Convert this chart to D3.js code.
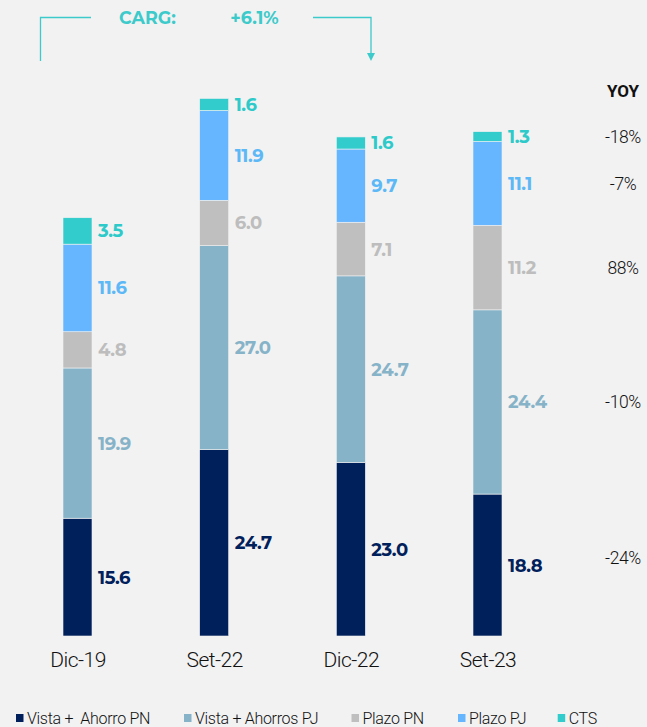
<!DOCTYPE html>
<html><head><meta charset="utf-8">
<script src="https://cdn.jsdelivr.net/npm/d3@7"></script>
<style>
html,body{margin:0;padding:0;background:#F2F2F2;}
svg{display:block;}
</style></head>
<body>
<svg id="chart" width="647" height="727"></svg>
<script>
const categories = ["Dic-19", "Set-22", "Dic-22", "Set-23"];
const seriesNames = ["Vista +  Ahorro PN", "Vista + Ahorros PJ", "Plazo PN", "Plazo PJ", "CTS"];
const vistaPN   = [15.6, 24.7, 23.0, 18.8];
const vistaPJ   = [19.9, 27.0, 24.7, 24.4];
const plazoPN   = [4.8, 6.0, 7.1, 11.2];
const plazoPJ   = [11.6, 11.9, 9.7, 11.1];
const cts       = [3.5, 1.6, 1.6, 1.3];
const yoyLabels = ["-24%", "-10%", "88%", "-7%", "-18%"]; // same order as series
const cargLabel = "CARG:";
const cargValue = "+6.1%";
const colors = ["#00205B", "#86B3C8", "#BFBFBF", "#66B5FF", "#33CCCC"];
const labelColors = ["#00205B", "#86B3C8", "#BDBDBD", "#5DB8F7", "#2ECACA"];

const series = [vistaPN, vistaPJ, plazoPN, plazoPJ, cts];
const rows = categories.map((c, i) => {
  const r = {cat: c};
  seriesNames.forEach((s, k) => r[s] = series[k][i]);
  return r;
});
const stacked = d3.stack().keys(seriesNames)(rows);

const svg = d3.select("#chart");
const baseY = 636, pxPerUnit = 7.55;
const y = d3.scaleLinear().domain([0, 80]).range([baseY, baseY - 80 * pxPerUnit]);
const x = d3.scalePoint().domain(categories).range([77.5, 487.5]);
const barW = 29;

const g = svg.append("g");
stacked.forEach((layer, k) => {
  g.selectAll(null).data(layer).enter().append("rect")
    .attr("x", d => x(d.data.cat) - barW / 2)
    .attr("y", d => y(d[1]))
    .attr("width", barW)
    .attr("height", d => y(d[0]) - y(d[1]))
    .attr("fill", colors[k])
    .attr("stroke", "#F2F2F2").attr("stroke-width", 0.6);
  g.selectAll(null).data(layer).enter().append("text")
    .attr("x", d => x(d.data.cat) + barW / 2 + 6)
    .attr("y", d => (y(d[0]) + y(d[1])) / 2)
    .attr("dy", "0.36em")
    .attr("fill", labelColors[k])
    .attr("font-family", "Montserrat, 'Open Sans', sans-serif")
    .attr("font-weight", 700)
    .attr("font-size", 18)
    .attr("letter-spacing", "-0.4")
    .text(d => (d[1] - d[0]).toFixed(1));
});

// x axis labels
const xAxis = d3.axisBottom(x).tickSize(0).tickPadding(0);
const ax = svg.append("g").attr("transform", `translate(0,${baseY + 16})`).call(xAxis);
ax.select(".domain").remove();
ax.selectAll("text")
  .attr("font-family", "Roboto, sans-serif")
  .attr("font-weight", 300)
  .attr("font-size", 21)
  .attr("letter-spacing", "-0.5")
  .attr("fill", "#111")
  .attr("dy", "0.71em");

// YOY column
const yoyX = 623;
svg.append("text").attr("x", yoyX).attr("y", 91).attr("dy", "0.36em")
  .attr("text-anchor", "middle").attr("font-family", "Roboto, sans-serif")
  .attr("font-weight", 700).attr("font-size", 17).attr("fill", "#111").text("YOY");
const last = categories.length - 1;
stacked.forEach((layer, k) => {
  const d = layer[last];
  svg.append("text").attr("x", yoyX)
    .attr("y", (y(d[0]) + y(d[1])) / 2 - (k === 0 ? 7 : 0))
    .attr("dy", "0.36em")
    .attr("text-anchor", "middle")
    .attr("font-family", "Roboto, sans-serif")
    .attr("font-weight", 300)
    .attr("font-size", 17.5)
    .attr("letter-spacing", "-0.4")
    .attr("fill", "#111")
    .text(yoyLabels[k]);
});

// CARG bracket
const teal = "#3CCACA";
const bx0 = 40.5, bx1 = 371, by = 17.5, byEnd = 61;
svg.append("path").attr("d", `M${bx0},${byEnd}V${by}H91`).attr("fill", "none").attr("stroke", teal).attr("stroke-width", 1.3);
svg.append("path").attr("d", `M313,${by}H${bx1}V${byEnd - 7}`).attr("fill", "none").attr("stroke", teal).attr("stroke-width", 1.3);
svg.append("path").attr("d", `M${bx1 - 4},${byEnd - 8}L${bx1 + 4},${byEnd - 8}L${bx1},${byEnd}Z`).attr("fill", teal);
svg.append("text").attr("x", 147.5).attr("y", by).attr("dy", "0.36em").attr("text-anchor", "middle")
  .attr("font-family", "Montserrat, 'Open Sans', sans-serif").attr("font-weight", 700).attr("font-size", 17.5)
  .attr("fill", teal).text(cargLabel);
svg.append("text").attr("x", 254.5).attr("y", by).attr("dy", "0.36em").attr("text-anchor", "middle")
  .attr("font-family", "Montserrat, 'Open Sans', sans-serif").attr("font-weight", 700).attr("font-size", 17.5)
  .attr("fill", teal).text(cargValue);

// Legend
const legendX = [16, 184, 351.5, 458, 557.7];
const lg = svg.append("g");
seriesNames.forEach((s, k) => {
  lg.append("rect").attr("x", legendX[k]).attr("y", 714).attr("width", 7.5).attr("height", 8).attr("fill", colors[k]);
  lg.append("text").attr("x", legendX[k] + 11).attr("y", 718).attr("dy", "0.36em")
    .attr("font-family", "Roboto, sans-serif")
    .attr("font-weight", 300)
    .attr("font-size", 16).attr("letter-spacing", "-0.3").attr("fill", "#111")
    .style("white-space", "pre").attr("xml:space", "preserve")
    .text(s);
});
</script>
</body></html>
